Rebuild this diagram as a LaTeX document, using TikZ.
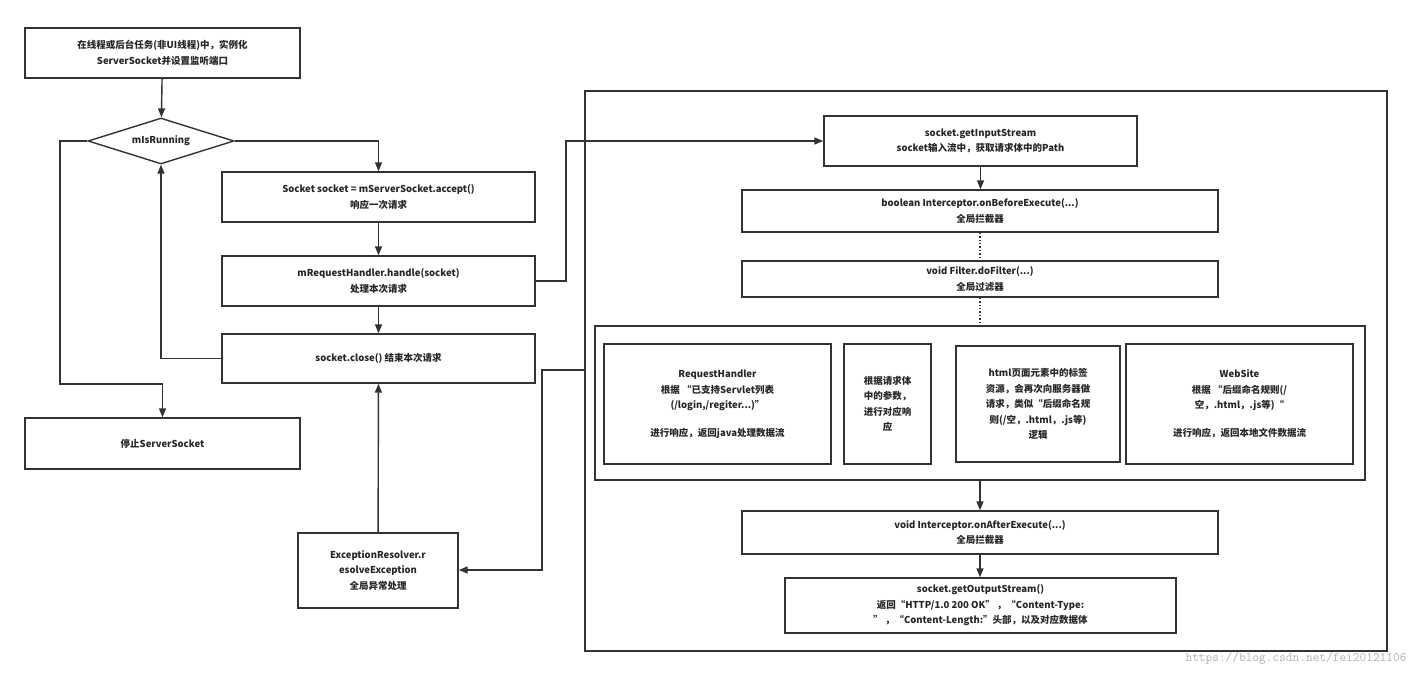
\documentclass[tikz,border=0pt]{standalone}
\usepackage{fontspec}
\setmainfont{Noto Sans CJK SC}
\usetikzlibrary{arrows.meta,shapes.geometric}
\begin{document}
\begin{tikzpicture}[x=1pt,y=-1pt,
  every node/.style={font=\bfseries\fontsize{9.5}{15.5}\selectfont,text=black!85},
  bx/.style={draw=black!80,line width=1.4pt,align=center,inner sep=0pt},
  ar/.style={draw=black!80,line width=1.4pt,-{Triangle[width=7pt,length=9pt]}},
  ln/.style={draw=black!80,line width=1.4pt},
  dt/.style={draw=black!80,line width=1.4pt,dotted}]
\useasboundingbox[fill=white] (0,0) rectangle (1418,677);
\def\bxat#1#2#3#4#5#6{\node[bx,minimum width=#4-#2,minimum height=#5-#3] (#1) at ({(#2+#4)/2},{(#3+#5)/2}) {#6};}
\bxat{top}{25}{28}{300}{78}{在线程或后台任务(非UI线程)中，实例化\\ServerSocket并设置监听端口}
\node[bx,diamond,aspect=3.2,minimum width=146,minimum height=46,inner sep=0pt] (dia) at (161,141) {mIsRunning};
\bxat{acc}{222}{172}{535}{222}{Socket socket = mServerSocket.accept()\\响应一次请求}
\bxat{hdl}{222}{256}{535}{306}{mRequestHandler.handle(socket)\\处理本次请求}
\bxat{cls}{222}{334}{535}{383}{socket.close() 结束本次请求}
\bxat{stop}{25}{418}{300}{469}{停止ServerSocket}
\bxat{exc}{298}{533}{458}{608}{ExceptionResolver.r\\esolveException\\全局异常处理}
\bxat{frame}{585}{91}{1387}{651}{}
\bxat{gin}{824}{116}{1137}{166}{socket.getInputStream\\socket输入流中，获取请求体中的Path}
\bxat{bef}{742}{190}{1218}{232}{boolean Interceptor.onBeforeExecute(...)\\全局拦截器}
\bxat{flt}{742}{261}{1218}{297}{void Filter.doFilter(...)\\全局过滤器}
\bxat{inner}{595}{326}{1365}{480}{}
\bxat{s1}{604}{344}{831}{464}{RequestHandler\\根据 “已支持Servlet列表\\(/login,/regiter...)”\\[12pt]进行响应，返回java处理数据流}
\bxat{s2}{844}{344}{931}{464}{根据请求体\\中的参数，\\进行对应响\\应}
\bxat{s3}{956}{346}{1120}{462}{html页面元素中的标签\\资源，会再次向服务器做\\请求，类似“后缀命名规\\则(/空，.html，.js等)\\逻辑}
\bxat{s4}{1126}{344}{1353}{464}{WebSite\\根据 “后缀命名规则(/\\空，.html，.js等)“\\[12pt]进行响应，返回本地文件数据流}
\bxat{aft}{742}{511}{1218}{554}{void Interceptor.onAfterExecute(...)\\全局拦截器}
\bxat{out}{785}{578}{1176}{633}{socket.getOutputStream()\\返回“HTTP/1.0 200 OK” ，“Content-Type:\\” ，“Content-Length:”头部，以及对应数据体}
\node[font=\fontsize{13}{13}\selectfont\ttfamily,text=black!30,anchor=east] (wm) at (1410,658) {https://blog.csdn.net/fei20121106};
\coordinate (fl) at (585,370);
\draw[ar] (top) -- (dia);
\draw[ar] (dia.east) -| (acc.north);
\draw[ar] (dia.west) -| (60,384) -| (stop.north);
\draw[ar] (acc) -- (hdl);
\draw[ar] (hdl) -- (cls);
\draw[ar] (cls.west) -| (dia.south);
\draw[ar] (hdl.east) -| (566,141) -- (gin.west);
\draw[ar] (gin) -- (gin|-bef.north);
\draw[dt] (bef) -- (bef|-flt.north);
\draw[dt] (flt) -- (flt|-inner.north);
\draw[ar] (inner.south-|980,0) -- (aft.north-|980,0);
\draw[ar] (aft.south-|980,0) -- (out.north-|980,0);
\draw[ar] (fl) -| (542,570) -- (exc.east|-0,570);
\draw[ar] (exc) -- (cls);
\end{tikzpicture}
\end{document}
